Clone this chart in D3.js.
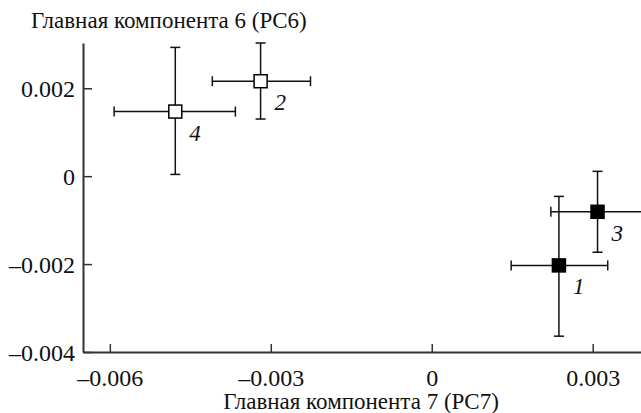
<!DOCTYPE html>
<html>
<head>
<meta charset="utf-8">
<script src="https://cdn.jsdelivr.net/npm/d3@7"></script>
</head>
<body style="margin:0">
<svg id="chart" width="641" height="413"></svg>
<script>
// group labels and PC coordinates
const groups = ["1", "2", "3", "4"];
const filled = [true, false, true, false];
const pc7 = [0.00237, -0.00319, 0.00309, -0.00478];
const pc7Low = [0.00148, -0.00409, 0.00222, -0.00592];
const pc7High = [0.00328, -0.00226, 0.00397, -0.00366];
const pc6 = [-0.00203, 0.00216, -0.00081, 0.00147];
const pc6Low = [-0.00364, 0.00130, -0.00173, 0.00004];
const pc6High = [-0.00046, 0.00303, 0.00011, 0.00293];

const xTicks = [-0.006, -0.003, 0, 0.003];
const yTicks = [-0.004, -0.002, 0, 0.002];

const xTitle = "Главная компонента 7 (PC7)";
const yTitle = "Главная компонента 6 (PC6)";

const serif = '"Liberation Serif", "Times New Roman", Tinos, Georgia';
const svg = d3.select("#chart");

const x = d3.scaleLinear().domain([-0.0065, 0.0039]).range([83, 641]);
const y = d3.scaleLinear().domain([-0.004, 0.00303]).range([352, 43]);

const fmt = d => d === 0 ? "0" : d3.format(".3f")(d).replace("−", "–").replace("-", "–");

// titles
svg.selectAll("text.title")
  .data([yTitle, xTitle])
  .join("text")
  .attr("class", "title")
  .attr("x", (d, i) => i ? 361 : 31)
  .attr("y", (d, i) => i ? 409 : 28)
  .attr("text-anchor", (d, i) => i ? "middle" : "start")
  .attr("fill", "#111")
  .attr("font-family", serif)
  .style("font-family", serif)
  .style("font-size", "23px")
  .text(d => d);

// axes, ticks pointing inward
const xAxis = svg.append("g")
  .attr("transform", "translate(0,352)")
  .call(d3.axisBottom(x).tickValues(xTicks).tickFormat(fmt).tickSizeInner(-8).tickSizeOuter(0).tickPadding(17));

const yAxis = svg.append("g")
  .attr("transform", "translate(83,0)")
  .call(d3.axisLeft(y).tickValues(yTicks).tickFormat(fmt).tickSizeInner(-9).tickSizeOuter(0).tickPadding(8));

[xAxis, yAxis].forEach(a => {
  a.attr("font-family", serif).attr("font-size", null);
  a.select(".domain").attr("stroke", "#333").attr("stroke-width", 2);
  a.selectAll(".tick line").attr("stroke", "#333").attr("stroke-width", 1.5);
  a.selectAll(".tick text")
    .attr("fill", "#111")
    .attr("font-family", serif)
    .style("font-family", serif)
    .style("font-size", "24px");
});
yAxis.selectAll(".tick text").attr("dy", "0.34em");

// error bars
const cap = 5;
const pts = svg.append("g").selectAll("g")
  .data(groups.map((g, i) => i))
  .join("g")
  .attr("stroke", "#111")
  .attr("stroke-width", 1.5);

pts.append("line")
  .attr("x1", i => x(pc7Low[i])).attr("x2", i => x(pc7High[i]))
  .attr("y1", i => y(pc6[i])).attr("y2", i => y(pc6[i]));
pts.append("line")
  .attr("x1", i => x(pc7[i])).attr("x2", i => x(pc7[i]))
  .attr("y1", i => y(pc6Low[i])).attr("y2", i => y(pc6High[i]));
pts.append("line")
  .attr("x1", i => x(pc7Low[i])).attr("x2", i => x(pc7Low[i]))
  .attr("y1", i => y(pc6[i]) - cap).attr("y2", i => y(pc6[i]) + cap);
pts.append("line")
  .attr("x1", i => x(pc7High[i])).attr("x2", i => x(pc7High[i]))
  .attr("y1", i => y(pc6[i]) - cap).attr("y2", i => y(pc6[i]) + cap);
pts.append("line")
  .attr("x1", i => x(pc7[i]) - cap).attr("x2", i => x(pc7[i]) + cap)
  .attr("y1", i => y(pc6Low[i])).attr("y2", i => y(pc6Low[i]));
pts.append("line")
  .attr("x1", i => x(pc7[i]) - cap).attr("x2", i => x(pc7[i]) + cap)
  .attr("y1", i => y(pc6High[i])).attr("y2", i => y(pc6High[i]));

// markers
const size = 13;
pts.append("rect")
  .attr("x", i => x(pc7[i]) - size / 2)
  .attr("y", i => y(pc6[i]) - size / 2)
  .attr("width", size).attr("height", size)
  .attr("fill", i => filled[i] ? "#000" : "#fff")
  .attr("stroke", "#000")
  .attr("stroke-width", 1.5);

// group numbers
pts.append("text")
  .attr("x", i => x(pc7[i]) + 14)
  .attr("y", i => y(pc6[i]) + 29)
  .attr("stroke", "none")
  .attr("fill", "#111")
  .attr("font-family", serif)
  .style("font-family", serif)
  .style("font-size", "23px")
  .style("font-style", "italic")
  .text(i => groups[i]);
</script>
</body>
</html>
